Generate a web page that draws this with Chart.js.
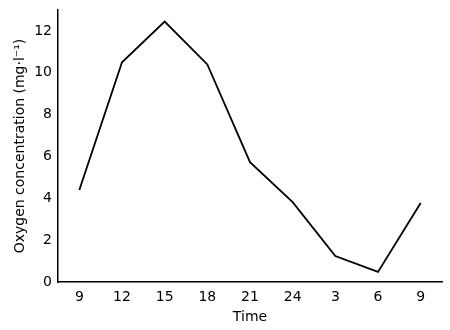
<!DOCTYPE html>
<html>
<head>
<meta charset="utf-8">
<script src="https://cdn.jsdelivr.net/npm/chart.js@4"></script>
<style>
  html, body { margin: 0; padding: 0; background: #fff; }
  #wrap { width: 450px; height: 330px; }
</style>
</head>
<body>
<div id="wrap"><canvas id="myChart" width="450" height="330"></canvas></div>
<script>
// hours of the day (runs over midnight)
const times = ['9', '12', '15', '18', '21', '24', '3', '6', '9'];
const oxygen = [4.4, 10.5, 12.45, 10.4, 5.73, 3.82, 1.24, 0.48, 3.78];
const yTicks = [0, 2, 4, 6, 8, 10, 12];

const font = { family: "'DejaVu Sans', sans-serif", size: 14 };

var ctx = document.getElementById('myChart').getContext('2d');
var chart = new Chart(ctx, {
  type: 'line',
  data: {
    labels: times,
    datasets: [{
      data: oxygen,
      borderColor: '#000',
      borderWidth: 1.8,
      pointRadius: 0,
      tension: 0,
      fill: false
    }]
  },
  options: {
    responsive: false,
    animation: false,
    layout: { padding: { top: 8, right: 8, left: 0, bottom: 0 } },
    plugins: { legend: { display: false }, tooltip: { enabled: false } },
    scales: {
      x: {
        offset: true,
        grid: { display: false, drawTicks: true, tickLength: 3, tickColor: '#000', offset: false },
        border: { color: '#000', width: 1.5 },
        ticks: { color: '#000', font: font, padding: 4, maxRotation: 0 },
        title: { display: true, text: 'Time', color: '#000', font: font, padding: { top: 2 } },
        afterFit: function (s) { s.height = 48; }
      },
      y: {
        min: 0,
        max: 13,
        afterBuildTicks: function (s) { s.ticks = yTicks.map(v => ({ value: v })); },
        grid: { display: false, drawTicks: true, tickLength: 3, tickColor: '#000' },
        border: { color: '#000', width: 1.5 },
        ticks: { color: '#000', font: Object.assign({ lineHeight: 1 }, font), padding: 3 },
        title: { display: true, text: 'Oxygen concentration (mg·l⁻¹)', color: '#000', font: font, padding: { top: 12, bottom: 4 } },
        afterFit: function (s) { s.width = 58; }
      }
    }
  }
});
</script>
</body>
</html>
